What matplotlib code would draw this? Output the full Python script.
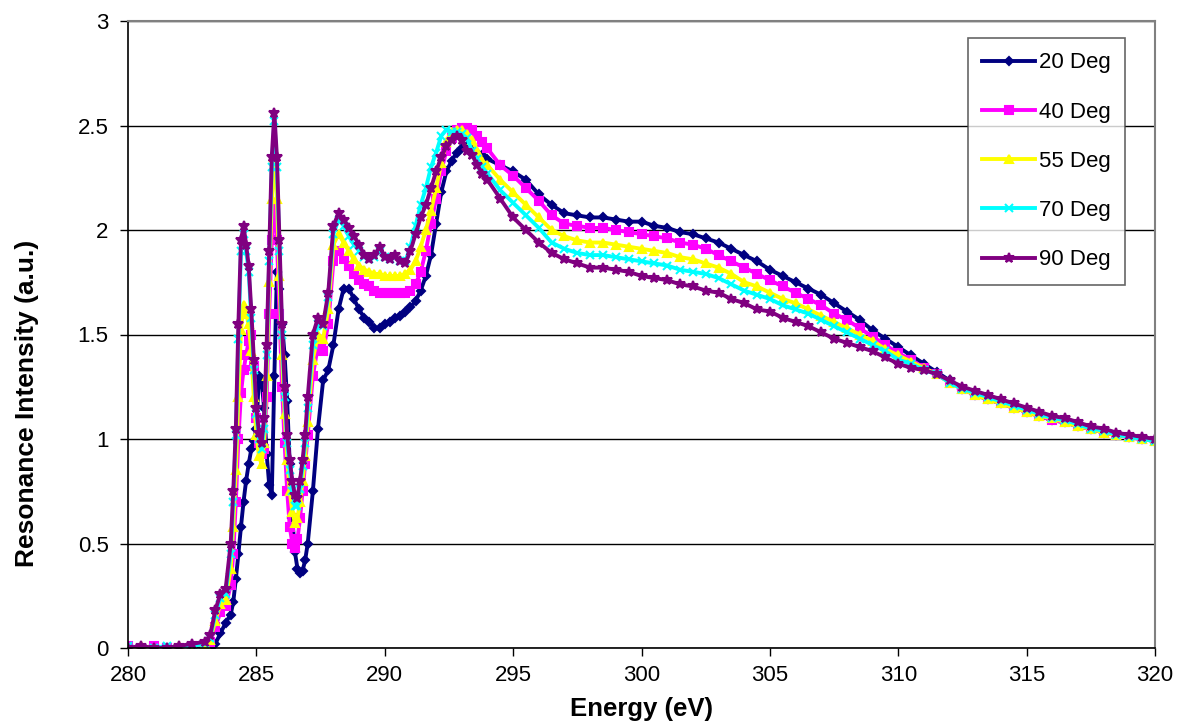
import numpy as np
import matplotlib.pyplot as plt

plt.rcParams['font.family'] = ['Liberation Sans', 'DejaVu Sans']

# energy grid (eV): coarse baseline, fine through the pi* peaks, then 0.2 and 0.5 eV steps
energy = np.round(np.concatenate([
    np.arange(280.0, 283.01, 0.5),
    np.arange(283.2, 283.81, 0.2),
    np.arange(284.0, 287.01, 0.1),
    np.arange(287.2, 294.01, 0.2),
    np.arange(294.5, 320.01, 0.5),
]), 1)

deg20 = [
    0.00, 0.00, 0.00, 0.00, 0.00, 0.00, 0.00,
    0.00, 0.02, 0.07, 0.12,
    0.16, 0.22, 0.33, 0.45, 0.58, 0.70, 0.80, 0.88, 0.95, 0.99,
    1.05, 1.30, 1.28, 1.15, 0.93, 0.78, 0.73, 1.30, 1.80, 1.72,
    1.55, 1.40, 1.18, 0.88, 0.62, 0.46, 0.38, 0.36, 0.37, 0.42, 0.50,
    0.75, 1.05, 1.28, 1.33, 1.45, 1.62, 1.72, 1.72, 1.67, 1.62,
    1.58, 1.56, 1.53, 1.53, 1.55, 1.56, 1.58, 1.59, 1.61, 1.63,
    1.66, 1.71, 1.78, 1.88, 2.03, 2.18, 2.28, 2.33, 2.37, 2.39,
    2.40, 2.39, 2.37, 2.36, 2.34,
    2.31, 2.28, 2.24, 2.17, 2.12, 2.08, 2.07, 2.06, 2.06, 2.05,
    2.04, 2.04, 2.02, 2.01, 1.99, 1.98, 1.96, 1.94, 1.91, 1.88,
    1.85, 1.81, 1.78, 1.75, 1.72, 1.69, 1.65, 1.61, 1.57, 1.52,
    1.48, 1.44, 1.40, 1.36, 1.32, 1.28, 1.24, 1.21, 1.19, 1.17,
    1.15, 1.13, 1.11, 1.09, 1.08, 1.06, 1.05, 1.03, 1.02, 1.01,
    1.00, 0.99,
]

deg40 = [
    0.01, 0.00, 0.01, 0.00, 0.00, 0.01, 0.02,
    0.03, 0.10, 0.17, 0.20,
    0.30, 0.45, 0.70, 1.00, 1.22, 1.33, 1.40, 1.47, 1.50, 1.35,
    1.10, 0.98, 0.93, 0.95, 1.20, 1.60, 1.95, 2.12, 1.95, 1.60,
    1.25, 0.98, 0.75, 0.58, 0.50, 0.48, 0.52, 0.62, 0.75, 0.88, 1.02,
    1.30, 1.45, 1.42, 1.55, 1.85, 1.90, 1.86, 1.83, 1.79, 1.76,
    1.74, 1.73, 1.71, 1.70, 1.70, 1.70, 1.70, 1.70, 1.70, 1.71,
    1.74, 1.80, 1.90, 2.03, 2.15, 2.28, 2.38, 2.44, 2.48, 2.49,
    2.49, 2.48, 2.45, 2.42, 2.39,
    2.31, 2.26, 2.20, 2.14, 2.07, 2.03, 2.02, 2.01, 2.01, 2.00,
    1.99, 1.98, 1.97, 1.96, 1.94, 1.93, 1.91, 1.88, 1.85, 1.82,
    1.79, 1.76, 1.73, 1.70, 1.67, 1.64, 1.60, 1.57, 1.53, 1.49,
    1.45, 1.41, 1.38, 1.34, 1.31, 1.27, 1.24, 1.21, 1.19, 1.17,
    1.15, 1.13, 1.11, 1.09, 1.08, 1.06, 1.05, 1.03, 1.02, 1.01,
    1.00, 0.99,
]

deg55 = [
    0.00, 0.01, 0.00, 0.00, 0.01, 0.01, 0.02,
    0.04, 0.13, 0.21, 0.23,
    0.38, 0.58, 0.85, 1.20, 1.52, 1.64, 1.60, 1.55, 1.42, 1.20,
    1.02, 0.92, 0.88, 0.98, 1.30, 1.75, 2.15, 2.35, 2.15, 1.78,
    1.40, 1.12, 0.90, 0.75, 0.65, 0.60, 0.62, 0.70, 0.80, 0.92, 1.08,
    1.38, 1.50, 1.48, 1.62, 1.93, 1.98, 1.94, 1.90, 1.86, 1.83,
    1.81, 1.80, 1.79, 1.79, 1.78, 1.78, 1.78, 1.78, 1.79, 1.81,
    1.85, 1.92, 2.00, 2.09, 2.20, 2.32, 2.42, 2.47, 2.48, 2.48,
    2.46, 2.43, 2.38, 2.33, 2.31,
    2.24, 2.18, 2.12, 2.06, 2.00, 1.97, 1.95, 1.94, 1.94, 1.93,
    1.92, 1.91, 1.90, 1.89, 1.87, 1.86, 1.84, 1.82, 1.79, 1.75,
    1.73, 1.70, 1.67, 1.65, 1.62, 1.59, 1.56, 1.53, 1.50, 1.47,
    1.43, 1.40, 1.37, 1.34, 1.31, 1.27, 1.24, 1.21, 1.19, 1.17,
    1.15, 1.13, 1.11, 1.10, 1.08, 1.06, 1.05, 1.03, 1.02, 1.01,
    1.00, 0.99,
]

deg70 = [
    0.01, 0.00, 0.00, 0.01, 0.00, 0.01, 0.02,
    0.05, 0.16, 0.24, 0.26,
    0.45, 0.70, 1.02, 1.48, 1.90, 1.98, 1.90, 1.80, 1.58, 1.33,
    1.12, 1.00, 0.95, 1.05, 1.40, 1.85, 2.30, 2.52, 2.30, 1.90,
    1.50, 1.20, 0.98, 0.85, 0.75, 0.68, 0.68, 0.76, 0.87, 0.98, 1.15,
    1.45, 1.55, 1.54, 1.68, 1.98, 2.05, 2.02, 1.97, 1.93, 1.90,
    1.87, 1.86, 1.87, 1.90, 1.87, 1.86, 1.87, 1.85, 1.85, 1.92,
    2.02, 2.12, 2.20, 2.30, 2.37, 2.45, 2.48, 2.47, 2.47, 2.46,
    2.44, 2.38, 2.34, 2.30, 2.27,
    2.19, 2.13, 2.07, 2.01, 1.94, 1.91, 1.89, 1.88, 1.88, 1.87,
    1.86, 1.85, 1.84, 1.83, 1.81, 1.80, 1.79, 1.77, 1.74, 1.71,
    1.69, 1.67, 1.64, 1.62, 1.60, 1.57, 1.54, 1.51, 1.48, 1.45,
    1.42, 1.38, 1.36, 1.33, 1.31, 1.27, 1.24, 1.22, 1.20, 1.18,
    1.16, 1.14, 1.12, 1.10, 1.09, 1.07, 1.05, 1.04, 1.02, 1.01,
    1.00, 0.99,
]

deg90 = [
    0.00, 0.01, 0.00, 0.00, 0.01, 0.02, 0.03,
    0.06, 0.18, 0.26, 0.28,
    0.50, 0.75, 1.05, 1.55, 1.95, 2.02, 1.93, 1.83, 1.62, 1.38,
    1.15, 1.03, 0.98, 1.10, 1.45, 1.90, 2.35, 2.56, 2.35, 1.95,
    1.55, 1.25, 1.02, 0.90, 0.80, 0.73, 0.72, 0.80, 0.90, 1.02, 1.20,
    1.50, 1.58, 1.55, 1.70, 2.02, 2.08, 2.05, 2.01, 1.97, 1.93,
    1.88, 1.86, 1.88, 1.92, 1.87, 1.86, 1.88, 1.85, 1.84, 1.90,
    1.98, 2.06, 2.12, 2.20, 2.28, 2.35, 2.40, 2.43, 2.45, 2.43,
    2.38, 2.36, 2.31, 2.27, 2.24,
    2.15, 2.06, 2.00, 1.94, 1.89, 1.86, 1.84, 1.82, 1.82, 1.81,
    1.80, 1.78, 1.77, 1.76, 1.74, 1.73, 1.71, 1.70, 1.67, 1.65,
    1.62, 1.61, 1.58, 1.56, 1.54, 1.51, 1.48, 1.46, 1.44, 1.42,
    1.39, 1.36, 1.34, 1.33, 1.31, 1.28, 1.25, 1.23, 1.21, 1.19,
    1.17, 1.15, 1.13, 1.11, 1.10, 1.08, 1.06, 1.05, 1.03, 1.02,
    1.01, 1.00,
]

labels = ['20 Deg', '40 Deg', '55 Deg', '70 Deg', '90 Deg']
series = [deg20, deg40, deg55, deg70, deg90]
colors = ['#000080', '#FF00FF', '#FFFF00', '#00FFFF', '#800080']
markers = ['D', 's', '^', 'x', '*']
msizes = [4.5, 5.5, 6, 6, 7.5]

fig = plt.figure(figsize=(11.79, 7.22), dpi=100)
ax = fig.add_axes([128 / 1179, 1 - 648 / 722, 1027 / 1179, 627 / 722])

for y, lab, c, m, ms in zip(series, labels, colors, markers, msizes):
    ax.plot(energy, y, color=c, marker=m, markersize=ms, linewidth=2.8,
            markeredgewidth=1.5, label=lab)

ax.set_xlim(280, 320)
ax.set_ylim(0, 3)
ax.set_xticks(np.arange(280, 321, 5))
ax.set_yticks(np.arange(0, 3.01, 0.5))
ax.set_yticklabels(['0', '0.5', '1', '1.5', '2', '2.5', '3'])
ax.yaxis.grid(True, color='black', linewidth=1)
ax.set_axisbelow(True)

ax.tick_params(direction='out', length=6, width=1, labelsize=16, colors='black')
ax.tick_params(axis='x', pad=6)
ax.tick_params(axis='y', pad=8)
for side in ['left', 'bottom']:
    ax.spines[side].set_color('black')
    ax.spines[side].set_linewidth(1.2)
for side in ['top', 'right']:
    ax.spines[side].set_color('#808080')
    ax.spines[side].set_linewidth(1.5)

ax.set_xlabel('Energy (eV)', fontsize=18.5, fontweight='bold', labelpad=8)
ax.set_ylabel('Resonance Intensity (a.u.)', fontsize=19, fontweight='bold')
ax.yaxis.set_label_coords(-0.087, 0.39)

leg = ax.legend(loc='upper left', bbox_to_anchor=(968 / 1179, 1 - 38 / 722),
                bbox_transform=fig.transFigure, fontsize=16, frameon=True,
                fancybox=False, edgecolor='#404040', handlelength=2.35,
                handletextpad=0.2, labelspacing=1.27, borderpad=0.65,
                borderaxespad=0)
leg.get_frame().set_linewidth(1.2)

fig.savefig('out.png', dpi=100)
